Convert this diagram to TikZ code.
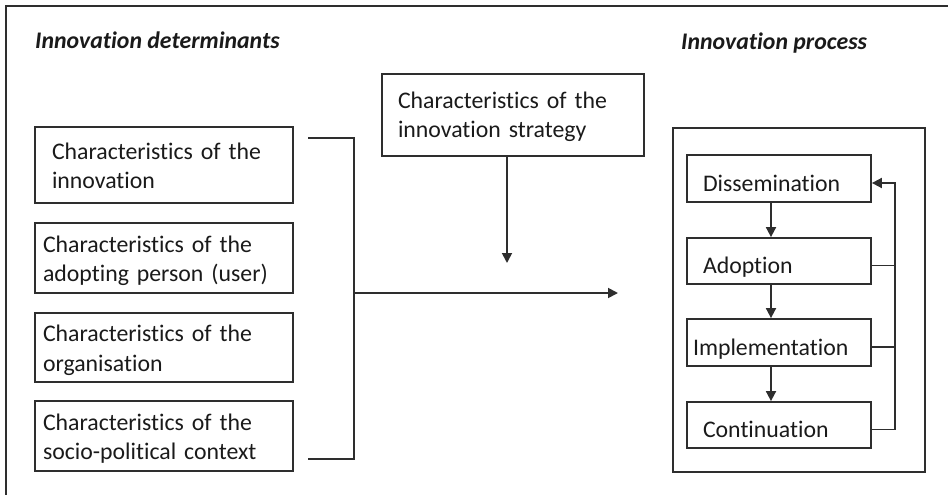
\documentclass[tikz,border=0pt]{standalone}
\usepackage{fontspec}
\setmainfont{Carlito}[RawFeature={-liga}]
\usetikzlibrary{arrows.meta}

\definecolor{ink}{HTML}{1A1A1A}
\definecolor{rule}{HTML}{2E2E2E}

\tikzset{
  txt/.style={font=\fontsize{23.8}{29.5}\selectfont, text=ink},
  heading/.style={txt, font=\fontsize{23.8}{29.5}\selectfont\bfseries\itshape, anchor=base west, inner sep=0pt},
  detbox/.style={txt, draw=rule, line width=1.8pt, rectangle, minimum width=258pt,
    inner ysep=0pt, align=left, text height=17pt, text depth=29pt},
  procbox/.style={txt, draw=rule, line width=1.8pt, rectangle, minimum width=184pt,
    inner ysep=0pt, align=left, text height=28pt, text depth=3pt},
  frame/.style={draw=rule, line width=1.8pt},
  link/.style={draw=rule, line width=1.8pt},
  arr/.style={link, -{Triangle[length=10pt,width=10pt]}}
}

\begin{document}
\begin{tikzpicture}[x=1pt, y=-1pt]
\useasboundingbox (0,0) rectangle (948,495);

% page frame
\coordinate (frTR) at (948,6);
\coordinate (frTL) at (6,6);
\coordinate (frBL) at (6,495);
\draw[frame] (frTR) -- (frTL) -- (frBL);

% headings
\node[heading] (hdet) at (35,49) {Innovation determinants};
\node[heading] (hproc) at (681,50) {Innovation process};

% determinants
\node[detbox, minimum height=76pt, inner xsep=17pt, text width=224pt] (d1) at (164,165)
  {Characteristics of the\\innovation};
\node[detbox, minimum height=70pt, inner xsep=8pt, text width=242pt] (d2) at (164,258)
  {Characteristics of the\\adopting person (user)};
\node[detbox, minimum height=69pt, inner xsep=8pt, text width=242pt] (d3) at (164,347.5)
  {Characteristics of the\\organisation};
\node[detbox, minimum height=70pt, inner xsep=8pt, text width=242pt] (d4) at (164,436)
  {Characteristics of the\\socio-political context};

% strategy
\node[detbox, minimum width=262pt, minimum height=82pt, inner xsep=16pt, text width=230pt,
  text depth=31pt] (strat) at (513,115)
  {Characteristics of the\\innovation strategy};

% bracket collecting the determinants
\coordinate (brT0) at (308,138);
\coordinate (brT1) at (354,138);
\coordinate (brB1) at (354,459);
\coordinate (brB0) at (308,459);
\coordinate (brM) at (354,293);
\coordinate (toproc) at (618,293);
\coordinate (stratend) at (507,263);
\draw[link] (brT0) -- (brT1) -- (brB1) -- (brB0);
\draw[arr] (brM) -- (toproc);
\draw[arr] (strat.south -| stratend) -- (stratend);

% innovation process
\node[draw=rule, line width=1.8pt, rectangle, minimum width=252pt, minimum height=344pt,
  inner sep=0pt] (proc) at (799,300) {};
\node[procbox, minimum height=47pt, inner xsep=16pt, text width=152pt] (diss) at (779,178.5) {Dissemination};
\node[procbox, minimum height=46pt, inner xsep=16pt, text width=152pt] (adop) at (779,261) {Adoption};
\node[procbox, minimum height=47pt, inner xsep=6pt, text width=172pt] (impl) at (779,342.5) {Implementation};
\node[procbox, minimum height=46pt, inner xsep=16pt, text width=152pt] (cont) at (779,425) {Continuation};

\draw[arr] ([xshift=-8pt]diss.south) -- ([xshift=-8pt]adop.north);
\draw[arr] ([xshift=-8pt]adop.south) -- ([xshift=-8pt]impl.north);
\draw[arr] ([xshift=-8pt]impl.south) -- ([xshift=-8pt]cont.north);

% feedback loop
\coordinate (fbT) at (895,183);
\coordinate (fbB) at (895,429.5);
\draw[arr] ([yshift=-4.5pt]cont.east) -- (fbB) -- (fbT) -- ([yshift=-4.5pt]diss.east);
\draw[link] ([yshift=-4.5pt]adop.east) -- ([yshift=-4.5pt]adop.east -| fbT);
\draw[link] ([yshift=-4.5pt]impl.east) -- ([yshift=-4.5pt]impl.east -| fbT);
\end{tikzpicture}
\end{document}
